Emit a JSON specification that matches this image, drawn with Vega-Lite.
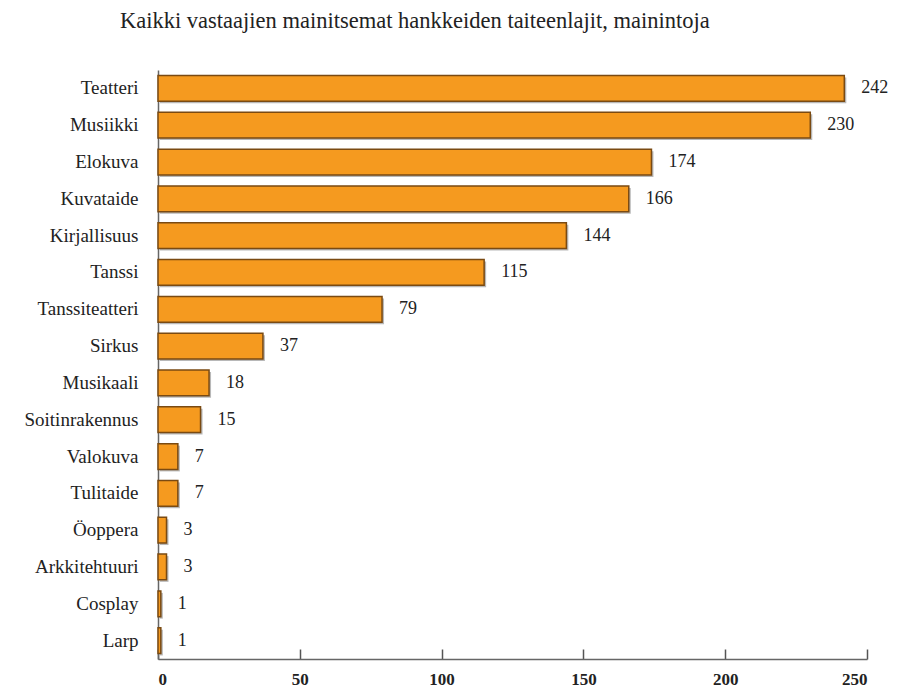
{
  "$schema": "https://vega.github.io/schema/vega-lite/v6.json",
  "autosize": "none",
  "width": 709,
  "height": 589,
  "padding": {"left": 158, "top": 70, "right": 32, "bottom": 30},
  "background": "white",
  "title": {
    "text": "Kaikki vastaajien mainitsemat hankkeiden taiteenlajit, mainintoja",
    "anchor": "start",
    "frame": "group",
    "dx": -38,
    "offset": 38,
    "font": "'Liberation Serif', 'DejaVu Serif', serif",
    "fontSize": 22.5,
    "fontWeight": "normal",
    "color": "#222222"
  },
  "config": {
    "view": {"stroke": null},
    "font": "'Liberation Serif', 'DejaVu Serif', serif"
  },
  "data": {
    "values": [
      {"laji": "Teatteri", "n": 242},
      {"laji": "Musiikki", "n": 230},
      {"laji": "Elokuva", "n": 174},
      {"laji": "Kuvataide", "n": 166},
      {"laji": "Kirjallisuus", "n": 144},
      {"laji": "Tanssi", "n": 115},
      {"laji": "Tanssiteatteri", "n": 79},
      {"laji": "Sirkus", "n": 37},
      {"laji": "Musikaali", "n": 18},
      {"laji": "Soitinrakennus", "n": 15},
      {"laji": "Valokuva", "n": 7},
      {"laji": "Tulitaide", "n": 7},
      {"laji": "Öoppera", "n": 3},
      {"laji": "Arkkitehtuuri", "n": 3},
      {"laji": "Cosplay", "n": 1},
      {"laji": "Larp", "n": 1}
    ]
  },
  "encoding": {
    "y": {
      "field": "laji",
      "type": "nominal",
      "sort": null,
      "scale": {"paddingInner": 0.3, "paddingOuter": 0.15},
      "axis": {
        "title": null,
        "ticks": false,
        "labelFont": "'Liberation Serif', 'DejaVu Serif', serif",
        "labelFontSize": 19,
        "labelColor": "#222222",
        "labelPadding": 20,
        "domainColor": "#666666",
        "domainWidth": 1.5
      }
    },
    "x": {
      "field": "n",
      "type": "quantitative",
      "scale": {"domain": [0, 250], "nice": false},
      "axis": {
        "title": null,
        "values": [0, 50, 100, 150, 200, 250],
        "grid": false,
        "tickSize": -10,
        "tickColor": "#555555",
        "tickWidth": 1.5,
        "domainColor": "#666666",
        "domainWidth": 1.5,
        "labelFont": "'Liberation Serif', 'DejaVu Serif', serif",
        "labelFontSize": 17,
        "labelColor": "#222222",
        "labelPadding": 22,
        "labelFontWeight": "bold"
      }
    }
  },
  "layer": [
    {
      "mark": {"type": "bar", "color": "#b8b8b8", "xOffset": 2, "yOffset": 2}
    },
    {
      "mark": {"type": "bar", "color": "#F59A1F", "stroke": "#7a4a12", "strokeWidth": 1.5}
    },
    {
      "mark": {"type": "text", "align": "left", "dx": 17, "font": "'Liberation Serif', 'DejaVu Serif', serif", "fontSize": 18, "color": "#222222"},
      "encoding": {"text": {"field": "n", "type": "quantitative"}}
    }
  ]
}
